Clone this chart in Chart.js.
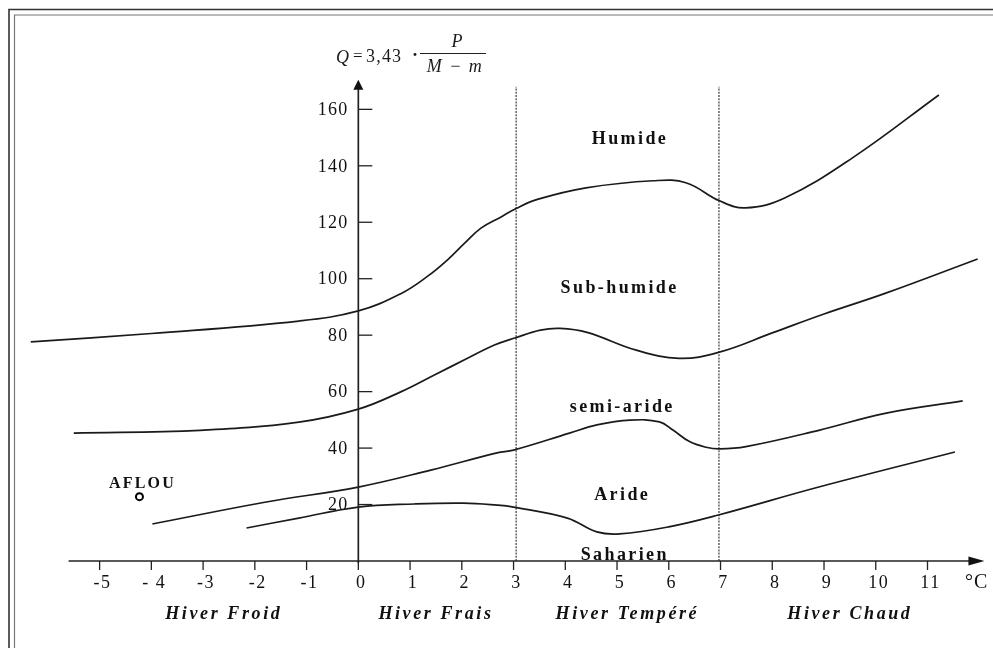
<!DOCTYPE html>
<html>
<head>
<meta charset="utf-8">
<script src="https://cdn.jsdelivr.net/npm/chart.js@4/dist/chart.umd.min.js"></script>
<style>
  body { margin: 0; background: #fff; }
  canvas { display: block; }
</style>
</head>
<body>
<canvas id="climagram" width="993" height="648"></canvas>
<script>
// Emberger climagram: Q = 3,43 * P / (M - m) against m (°C)

// x tick values and labels
const xTicks = [-5, -4, -3, -2, -1, 0, 1, 2, 3, 4, 5, 6, 7, 8, 9, 10, 11];
const xTickLabels = ['-5', '- 4', '-3', '-2', '-1', '0', '1', '2', '3', '4', '5', '6', '7', '8', '9', '10', '11'];
const yTicks = [20, 40, 60, 80, 100, 120, 140, 160];

// limit curves between the bioclimatic stages (m, Q)
const humideX = [-6.33, -4.0, -1.15, 0, 0.83, 1.34, 1.73, 2.05, 2.37, 2.75, 3.05, 3.46, 4.4, 5.7, 6.33, 6.98, 7.48, 8.25, 9.55, 11.22];
const humideY = [77.6, 80.6, 85.0, 88.6, 94.8, 100.9, 106.8, 112.5, 117.9, 121.8, 124.9, 128.1, 132.2, 134.7, 134, 127.6, 125.1, 128.7, 142.8, 165.1];

const subHumideX = [-5.5, -3.06, -1.15, 0, 0.83, 1.47, 2.11, 2.63, 3.04, 3.52, 3.9, 4.42, 5.37, 6.2, 6.96, 8.0, 9.0, 10.18, 11.97];
const subHumideY = [45.3, 46.3, 49.2, 53.8, 60, 65.9, 71.8, 76.5, 79.1, 81.8, 82.4, 81, 74.7, 71.8, 73.9, 80.8, 87.5, 94.8, 107];

const semiAridX = [-3.98, -1.78, 0, 1.4, 2.68, 3.0, 4.08, 4.61, 5.25, 5.82, 6.08, 6.4, 6.72, 6.98, 7.49, 8.9, 10.18, 11.68];
const semiAridY = [13.1, 20.9, 26.2, 32.2, 38.3, 39.3, 45.3, 48.2, 49.9, 49.3, 46.4, 42.3, 40.3, 39.7, 40.5, 46.3, 52.3, 56.7];

const arideX = [-2.16, -1.15, 0, 1.09, 2.04, 2.68, 3.0, 4.04, 4.61, 5.05, 6.0, 6.96, 8.9, 11.53];
const arideY = [11.7, 15.2, 19.1, 20.2, 20.5, 19.8, 19.1, 15.2, 10.3, 9.6, 12.1, 16.3, 26.2, 38.6];

// winter type boundaries (m)
const winterLimits = [3.05, 6.97];
const winterTop = 168;
const winterNames = ['Hiver Froid', 'Hiver Frais', 'Hiver Tempéré', 'Hiver Chaud'];
const winterCenters = [-2.6, 1.5, 5.2, 9.5];

// stage names and station
const stageNames = ['Humide', 'Sub-humide', 'semi-aride', 'Aride', 'Saharien'];
const stageQ = [149.5, 96.5, 54.4, 23.3, 2.1];
const stageM = [5.25, 5.05, 5.1, 5.1, 5.15];

const station = 'AFLOU';
const stationM = -4.23;
const stationQ = 22.8;

const toPts = (xs, ys) => xs.map((x, i) => ({ x: x, y: ys[i] }));

const curveStyle = {
	borderColor: '#1a1a1a',
	borderWidth: 1.7,
	pointRadius: 0,
	showLine: true,
	fill: false,
	tension: 0.4
};

const datasets = [
	Object.assign({ label: 'Humide', data: toPts(humideX, humideY) }, curveStyle),
	Object.assign({ label: 'Sub-humide', data: toPts(subHumideX, subHumideY) }, curveStyle),
	Object.assign({ label: 'semi-aride', data: toPts(semiAridX, semiAridY) }, curveStyle),
	Object.assign({ label: 'Aride', data: toPts(arideX, arideY) }, curveStyle)
];
winterLimits.forEach(function (m) {
	datasets.push({
		label: 'limite ' + m,
		data: [ { x: m, y: 0 }, { x: m, y: winterTop } ],
		borderColor: '#4a4a4a',
		borderWidth: 1.3,
		borderDash: [ 2, 1.2 ],
		pointRadius: 0,
		showLine: true
	});
});
datasets.push({
	label: station,
	data: [ { x: stationM, y: stationQ } ],
	pointRadius: 3.5,
	pointBorderWidth: 2,
	pointBorderColor: '#000',
	pointBackgroundColor: '#fff',
	showLine: false
});

function txt(ctx, s, x, y, font, align, spacing) {
	ctx.font = font;
	ctx.textAlign = align || 'center';
	ctx.textBaseline = 'middle';
	ctx.letterSpacing = (spacing || 0) + 'px';
	ctx.fillText(s, x, y);
	ctx.letterSpacing = '0px';
}

// background, frame, axes, arrows, ticks and texts
const decor = {
	id: 'decor',
	beforeDraw(chart) {
		const ctx = chart.ctx;
		ctx.save();
		ctx.fillStyle = '#fff';
		ctx.fillRect(0, 0, chart.width, chart.height);
		// double frame (cut at right and bottom, like the scan)
		ctx.strokeStyle = '#333';
		ctx.lineWidth = 1.6;
		ctx.beginPath();
		ctx.moveTo(9, chart.height); ctx.lineTo(9, 9.5); ctx.lineTo(chart.width, 9.5);
		ctx.stroke();
		ctx.strokeStyle = '#777';
		ctx.lineWidth = 1.2;
		ctx.beginPath();
		ctx.moveTo(14.5, chart.height); ctx.lineTo(14.5, 15); ctx.lineTo(chart.width, 15);
		ctx.stroke();
		ctx.restore();
	},
	afterDatasetsDraw(chart) {
		const ctx = chart.ctx;
		const xs = chart.scales.x, ys = chart.scales.y;
		const x0 = xs.getPixelForValue(0), y0 = ys.getPixelForValue(0);
		ctx.save();
		ctx.strokeStyle = '#222';
		ctx.fillStyle = '#111';
		ctx.lineWidth = 1.7;

		// x axis with arrow
		const xStart = xs.getPixelForValue(-5.6), xEnd = xs.getPixelForValue(12.1);
		ctx.beginPath();
		ctx.moveTo(xStart, y0); ctx.lineTo(xEnd - 12, y0);
		ctx.stroke();
		ctx.beginPath();
		ctx.moveTo(xEnd, y0); ctx.lineTo(xEnd - 16, y0 - 4.5); ctx.lineTo(xEnd - 16, y0 + 4.5);
		ctx.closePath(); ctx.fill();

		// y axis with arrow
		const yEnd = ys.getPixelForValue(170.5);
		ctx.beginPath();
		ctx.moveTo(x0, y0 + 2); ctx.lineTo(x0, yEnd + 8);
		ctx.stroke();
		ctx.beginPath();
		ctx.moveTo(x0, yEnd); ctx.lineTo(x0 - 5, yEnd + 10); ctx.lineTo(x0 + 5, yEnd + 10);
		ctx.closePath(); ctx.fill();

		// ticks
		ctx.lineWidth = 1.3;
		xTicks.forEach(function (v, i) {
			const px = xs.getPixelForValue(v);
			ctx.beginPath(); ctx.moveTo(px, y0); ctx.lineTo(px, y0 + 9); ctx.stroke();
			txt(ctx, xTickLabels[i], px + 3, y0 + 22, '18px "Liberation Serif"', 'center', 1.5);
		});
		yTicks.forEach(function (v) {
			const py = ys.getPixelForValue(v);
			ctx.beginPath(); ctx.moveTo(x0, py); ctx.lineTo(x0 + 14, py); ctx.stroke();
			txt(ctx, String(v), x0 - 10, py + 1, '18px "Liberation Serif"', 'right', 1.2);
		});
		txt(ctx, '°C', xs.getPixelForValue(11.95), y0 + 22, '20px "Liberation Serif"', 'center', 1);

		// winter types
		winterNames.forEach(function (s, i) {
			txt(ctx, s, xs.getPixelForValue(winterCenters[i]), y0 + 53, 'italic bold 18px "Liberation Serif"', 'center', 2.6);
		});

		// stages
		stageNames.forEach(function (s, i) {
			txt(ctx, s, xs.getPixelForValue(stageM[i]), ys.getPixelForValue(stageQ[i]), 'bold 18px "Liberation Serif"', 'center', 2.4);
		});

		// station label
		txt(ctx, station, xs.getPixelForValue(stationM) + 3, ys.getPixelForValue(stationQ) - 13, 'bold 16px "Liberation Serif"', 'center', 2.2);

		// formula  Q = 3,43 · P / (M - m)
		ctx.fillStyle = '#1a1a1a';
		txt(ctx, 'Q', 336, 58, 'italic 18px "Liberation Serif"', 'left', 0);
		txt(ctx, '=', 353, 57, '17px "Liberation Serif"', 'left', 0);
		txt(ctx, '3,43', 366, 57, '18px "Liberation Serif"', 'left', 1.2);
		txt(ctx, '·', 412, 56, 'bold 18px "Liberation Serif"', 'left', 0);
		txt(ctx, 'P', 457, 42, 'italic 18px "Liberation Serif"', 'center', 0);
		txt(ctx, 'M − m', 455, 67, 'italic 18px "Liberation Serif"', 'center', 1.5);
		ctx.lineWidth = 1;
		ctx.beginPath(); ctx.moveTo(420, 53.5); ctx.lineTo(486, 53.5); ctx.stroke();
		ctx.restore();
	}
};

new Chart(document.getElementById('climagram'), {
	type: 'scatter',
	data: { datasets: datasets },
	options: {
		responsive: false,
		animation: false,
		devicePixelRatio: 1,
		layout: { padding: { left: 22, right: 0, top: 67, bottom: 87 } },
		plugins: { legend: { display: false }, tooltip: { enabled: false } },
		scales: {
			x: { type: 'linear', min: -6.5, max: 12.15, display: false },
			y: { type: 'linear', min: 0, max: 175, display: false }
		}
	},
	plugins: [ decor ]
});
</script>
</body>
</html>
